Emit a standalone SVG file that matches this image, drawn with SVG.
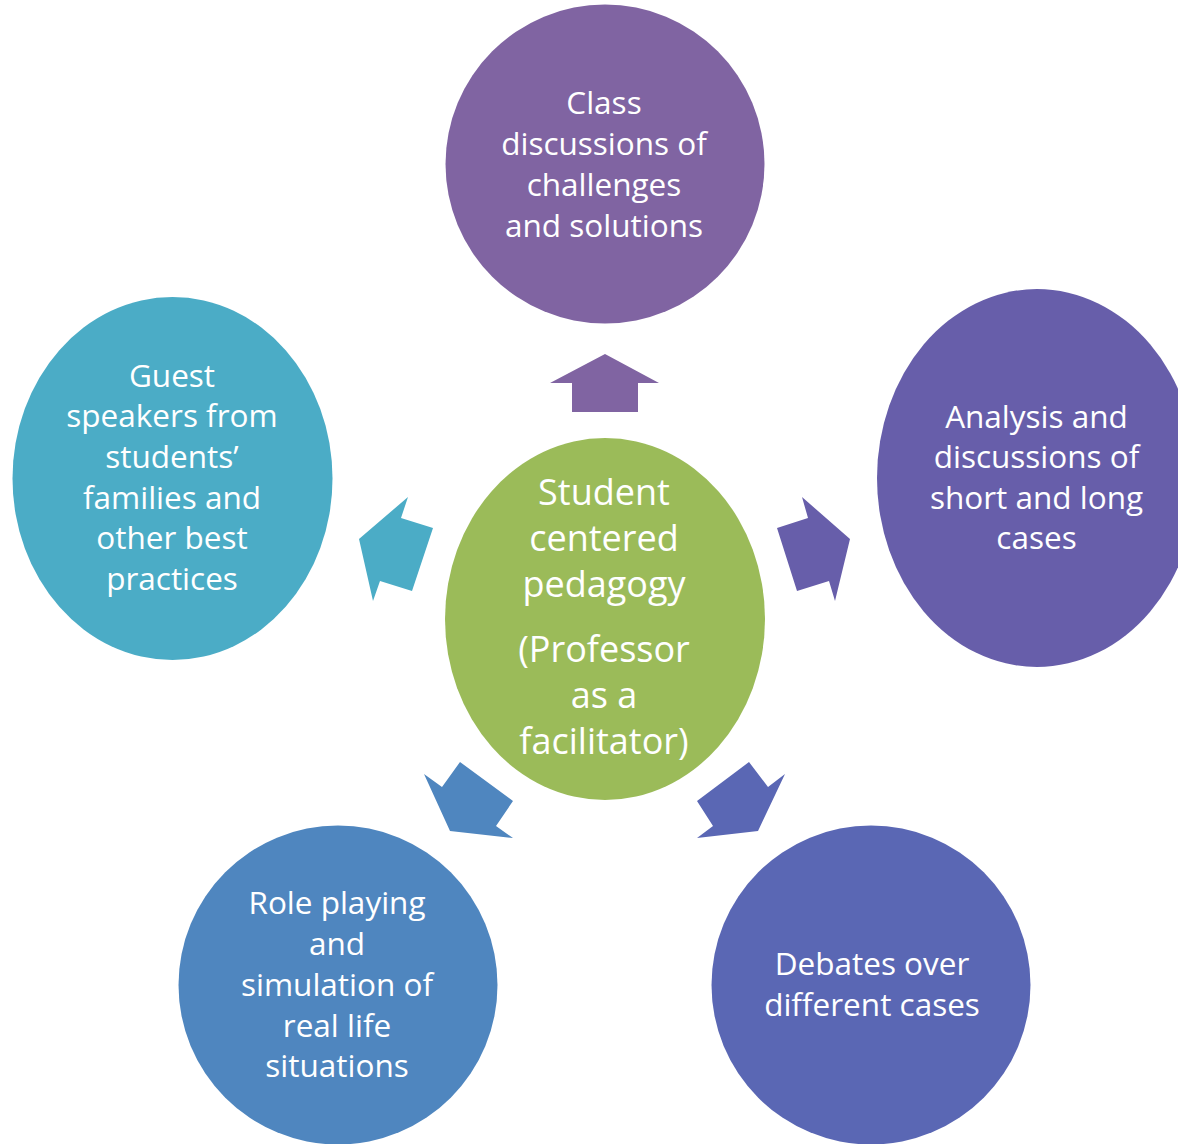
<svg xmlns="http://www.w3.org/2000/svg" width="1178" height="1144" viewBox="0 0 1178 1144">
<style>
text{font-family:"Open Sans","Noto Sans",sans-serif;fill:#ffffff;text-anchor:middle}
.o{font-size:31.5px}
.c{font-size:36px}
</style>
<rect width="1178" height="1144" fill="#ffffff"/>
<g id="connectors">
<polygon fill="#8064A2" points="605,354 659,383 638,383 638,412 572,412 572,383 550,383"/>
<polygon fill="#4BACC6" points="359,539 408,497 401,518 433,528 412,591 380,581 373,601"/>
<polygon fill="#675EAA" points="850,539 802,497 808,518 777,528 797,591 829,581 835,601"/>
<polygon fill="#4F86BF" points="424,774 442,787 460,762 513,801 496,826 513,838 450,831"/>
<polygon fill="#5A67B4" points="785,774 768,787 749,762 697,801 713,826 697,838 758,831"/>
</g>
<g id="top">
<circle cx="605" cy="164" r="159.5" fill="#8064A2"/>
<text class="o" x="604" y="114">Class</text>
<text class="o" x="604" y="155">discussions of</text>
<text class="o" x="604" y="196">challenges</text>
<text class="o" x="604" y="237">and solutions</text>
</g>
<g id="left">
<ellipse cx="172.5" cy="478.5" rx="160" ry="181.5" fill="#4BACC6"/>
<text class="o" x="172" y="386.5">Guest</text>
<text class="o" x="172" y="427">speakers from</text>
<text class="o" x="172" y="468">students’</text>
<text class="o" x="172" y="508.5">families and</text>
<text class="o" x="172" y="549">other best</text>
<text class="o" x="172" y="590">practices</text>
</g>
<g id="right">
<ellipse cx="1037" cy="478" rx="160" ry="189" fill="#675EAA"/>
<text class="o" x="1036.5" y="427.5">Analysis and</text>
<text class="o" x="1036.5" y="468.3">discussions of</text>
<text class="o" x="1036.5" y="509.3">short and long</text>
<text class="o" x="1036.5" y="549.3">cases</text>
</g>
<g id="center">
<ellipse cx="605" cy="619" rx="160" ry="181" fill="#9BBB59"/>
<text class="c" x="604" y="505">Student</text>
<text class="c" x="604" y="551">centered</text>
<text class="c" x="604" y="597">pedagogy</text>
<text class="c" x="604" y="662">(Professor</text>
<text class="c" x="604" y="708">as a</text>
<text class="c" x="604" y="754">facilitator)</text>
</g>
<g id="bottom-left">
<circle cx="338" cy="985" r="159.5" fill="#4F86BF"/>
<text class="o" x="337" y="914">Role playing</text>
<text class="o" x="337" y="955">and</text>
<text class="o" x="337" y="996">simulation of</text>
<text class="o" x="337" y="1036.7">real life</text>
<text class="o" x="337" y="1077.3">situations</text>
</g>
<g id="bottom-right">
<circle cx="871" cy="985" r="159.5" fill="#5A67B4"/>
<text class="o" x="872" y="975">Debates over</text>
<text class="o" x="872" y="1016">different cases</text>
</g>
</svg>
